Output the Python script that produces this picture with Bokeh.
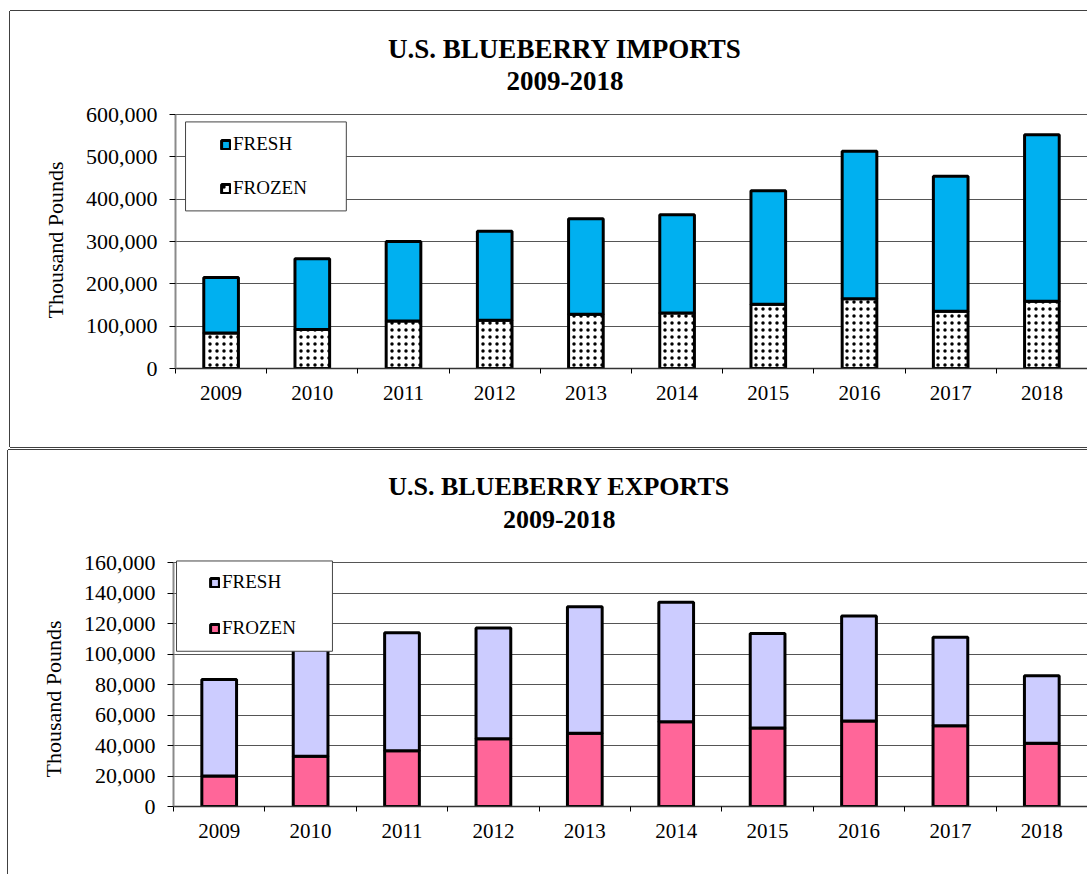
import numpy as np
from bokeh.plotting import figure
from bokeh.models import (ColumnDataSource, FixedTicker, NumeralTickFormatter, Title, Label,
                          BoxAnnotation, Legend, LegendItem, Range1d)
from bokeh.layouts import column
from bokeh.embed import file_html
from bokeh.resources import INLINE

# ---------------- data ----------------
years = ["2009", "2010", "2011", "2012", "2013", "2014", "2015", "2016", "2017", "2018"]

imports_frozen = [84000, 92000, 112000, 114000, 128000, 131000, 152000, 165000, 135000, 159000]
imports_fresh = [131000, 167000, 188000, 210000, 226000, 232000, 268000, 348000, 319000, 393000]

exports_frozen = [20000, 33000, 36500, 44500, 48000, 55500, 51500, 56000, 53000, 41500]
exports_fresh = [63300, 74000, 77500, 72500, 83000, 78500, 62000, 69000, 58000, 44300]

import_ticks = [0, 100000, 200000, 300000, 400000, 500000, 600000]
export_ticks = [0, 20000, 40000, 60000, 80000, 100000, 120000, 140000, 160000]

series_labels = ["FRESH", "FROZEN"]
import_titles = ["U.S. BLUEBERRY IMPORTS", "2009-2018"]
export_titles = ["U.S. BLUEBERRY EXPORTS", "2009-2018"]
y_label = "Thousand Pounds"

SERIF = "Liberation Serif"


def make_panel(frozen, fresh, ticks, titles, fresh_color, frozen_color, hatch,
               width, height, mb_left, mb_bottom, head_px,
               title_size, title_x, title_px, ylabel_title_offset,
               box, legend_loc, legend_spacing):
    n = len(years)
    xs = np.arange(n) + 0.5
    frozen = np.array(frozen, dtype=float)
    fresh = np.array(fresh, dtype=float)
    src = ColumnDataSource(dict(x=xs, zero=np.zeros(n), frozen=frozen,
                                total=frozen + fresh))

    # the frame reaches the top of the panel; the value axis is bounded to the ticks
    frame_h = height - mb_bottom
    y_end = ticks[-1] * frame_h / (frame_h - head_px)
    px_per_unit = (frame_h - head_px) / ticks[-1]

    p = figure(width=width, height=height, x_range=Range1d(0, n),
               y_range=Range1d(ticks[0], y_end), output_backend="svg",
               toolbar_location=None, min_border_left=mb_left, min_border_right=0,
               min_border_top=0, min_border_bottom=mb_bottom)
    p.outline_line_color = None
    p.background_fill_color = "white"
    p.border_fill_color = "white"

    # bars
    r_frozen = p.vbar(x="x", bottom="zero", top="frozen", width=0.38, source=src,
                      fill_color=frozen_color, line_color="black", line_width=3,
                      hatch_pattern=hatch, hatch_color="black", hatch_scale=7,
                      hatch_weight=1.5)
    r_fresh = p.vbar(x="x", bottom="frozen", top="total", width=0.38, source=src,
                     fill_color=fresh_color, line_color="black", line_width=3)

    # axes
    xa = p.xaxis[0]
    xa.ticker = FixedTicker(ticks=list(xs), minor_ticks=list(range(n + 1)))
    xa.major_label_overrides = {float(x): y for x, y in zip(xs, years)}
    xa.major_tick_line_color = None
    xa.major_tick_out = 0
    xa.major_tick_in = 0
    xa.minor_tick_line_color = "black"
    xa.minor_tick_out = 5
    xa.minor_tick_in = 0
    xa.major_label_standoff = 12
    xa.axis_line_color = "#333333"
    xa.axis_line_width = 1.5
    xa.major_label_text_font = SERIF
    xa.major_label_text_font_size = "21px"
    xa.major_label_text_color = "black"

    ya = p.yaxis[0]
    ya.ticker = FixedTicker(ticks=ticks)
    ya.bounds = (ticks[0], ticks[-1])
    ya.formatter = NumeralTickFormatter(format="0,0")
    ya.major_tick_line_color = "black"
    ya.major_tick_out = 6
    ya.major_tick_in = 0
    ya.minor_tick_line_color = None
    ya.major_label_standoff = 12
    ya.axis_line_color = "#8a8a8a"
    ya.axis_line_width = 2
    ya.major_label_text_font = SERIF
    ya.major_label_text_font_size = "22px"
    ya.major_label_text_color = "black"
    ya.axis_label = None
    p.add_layout(Title(text=y_label, align="left", offset=ylabel_title_offset,
                       text_font=SERIF, text_font_style="normal",
                       text_font_size="22px", text_color="black",
                       standoff=30), "left")

    p.xgrid.visible = False
    p.ygrid.ticker = FixedTicker(ticks=ticks)
    p.ygrid.grid_line_color = "#555555"
    p.ygrid.grid_line_width = 1

    # two-line chart title, placed in the head room above the top tick
    for txt, py in zip(titles, title_px):
        p.add_layout(Label(x=title_x, y=ticks[-1] + (head_px - py) / px_per_unit,
                           text=txt, text_align="center", text_baseline="middle",
                           text_font=SERIF, text_font_style="bold",
                           text_font_size=title_size, text_color="black"))

    # legend
    p.add_layout(BoxAnnotation(left=box[0], right=box[1], bottom=box[2], top=box[3],
                               fill_color="white", fill_alpha=1.0,
                               line_color="#444444", line_width=1, line_alpha=1.0))
    legend = Legend(items=[LegendItem(label=series_labels[0], renderers=[r_fresh]),
                           LegendItem(label=series_labels[1], renderers=[r_frozen])],
                    location=legend_loc, orientation="vertical", glyph_width=11,
                    glyph_height=11, label_standoff=2, spacing=legend_spacing, padding=0,
                    margin=0, border_line_color=None, background_fill_alpha=0,
                    label_text_font=SERIF, label_text_font_size="19px",
                    label_text_color="black", label_height=20)
    p.add_layout(legend)
    return p


# panel 1 occupies page y 11..447, panel 2 y 450..874
p1 = make_panel(imports_frozen, imports_fresh, import_ticks, import_titles,
                "#00B0F0", "white", "dot",
                width=1077, height=436, mb_left=164, mb_bottom=79, head_px=103,
                title_size="27px", title_x=4.27, title_px=(37, 69),
                ylabel_title_offset=50,
                box=(0.11, 1.873, 372300, 582500), legend_loc=(45, 169),
                legend_spacing=22)
p1.margin = (11, 0, 0, 10)
p1.styles = {"box-shadow": "-1px 0 0 0 #404040, 0 -1px 0 0 #404040, 0 1px 0 0 #404040"}

p2 = make_panel(exports_frozen, exports_fresh, export_ticks, export_titles,
                "#CCCCFF", "#FF6699", None,
                width=1079, height=424, mb_left=165, mb_bottom=68, head_px=112,
                title_size="26px", title_x=4.22, title_px=(36, 68.5),
                ylabel_title_offset=29,
                box=(0.033, 1.739, 101800, 161000), legend_loc=(36, 167),
                legend_spacing=24)
p2.margin = (0, 0, 0, 8)
p2.styles = {"box-shadow": "-1px 0 0 0 #404040, 0 -1px 0 0 #404040"}

layout = column(p1, p2, spacing=3)

with open("out.html", "w") as f:
    f.write(file_html(layout, INLINE))
